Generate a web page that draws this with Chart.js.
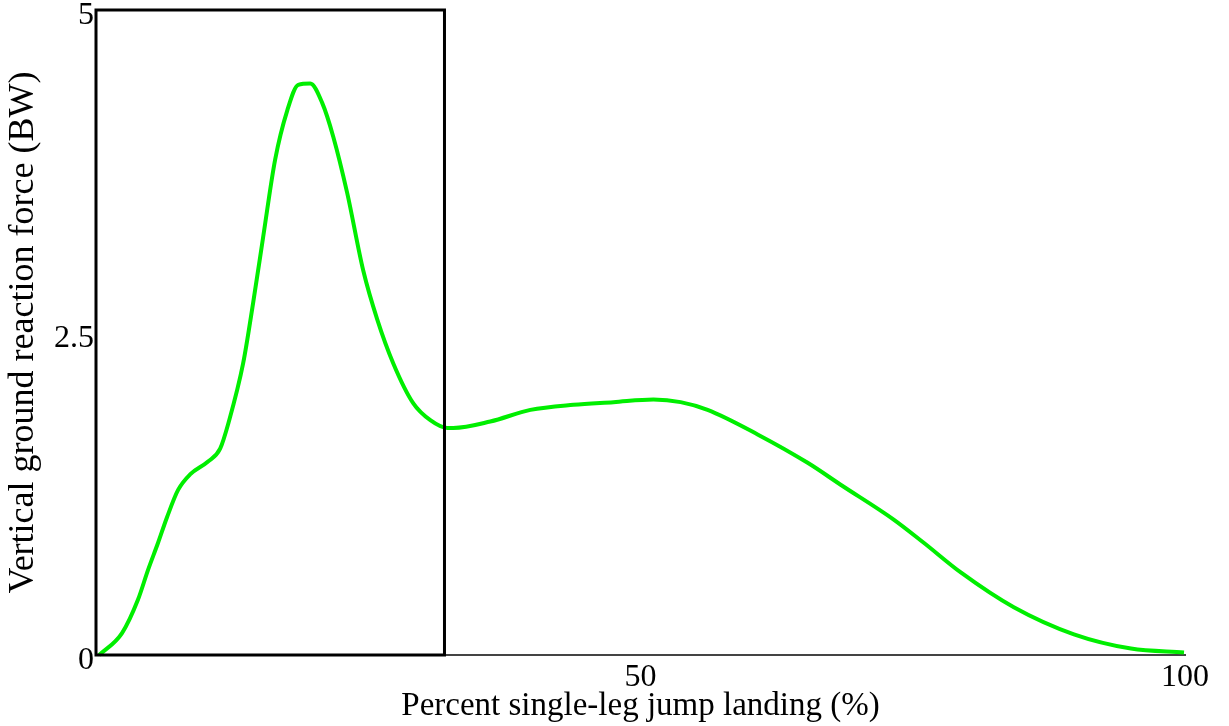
<!DOCTYPE html>
<html>
<head>
<meta charset="utf-8">
<script src="https://cdn.jsdelivr.net/npm/chart.js@4"></script>
<style>
  html, body { margin: 0; padding: 0; background: #fff; }
  #wrap { width: 1229px; height: 726px; position: relative; }
</style>
</head>
<body>
<div id="wrap"><canvas id="c"></canvas></div>
<script>
// Data
const percentLanding = [0.3, 2.39, 3.86, 4.78, 5.70, 6.53, 7.54, 8.64, 10.29, 11.40, 12.2, 13.51, 14.43, 15.35, 16.45, 17.56, 18.57, 19.67, 20.77, 21.78, 23.07, 24.54, 25.83, 27.30, 29.14, 30.70, 32.26, 32.81, 36.21, 39.89, 43.84, 47.52, 51.19, 53.68, 56.16, 60.75, 65.35, 68.38, 73.25, 76.01, 79.41, 84.28, 89.80, 95.04, 99.91];
const vgrfBW = [0.0, 0.17, 0.43, 0.66, 0.87, 1.07, 1.28, 1.40, 1.50, 1.60, 1.81, 2.26, 2.73, 3.24, 3.84, 4.22, 4.42, 4.43, 4.28, 4.02, 3.58, 2.98, 2.60, 2.26, 1.95, 1.82, 1.76, 1.76, 1.81, 1.90, 1.94, 1.96, 1.98, 1.96, 1.90, 1.71, 1.49, 1.32, 1.05, 0.87, 0.64, 0.37, 0.16, 0.05, 0.02];
const xTicks = [0, 50, 100];
const yTicks = [0, 2.5, 5];
const boxX = [0, 32];
const boxY = [0, 5];
const xTitle = 'Percent single-leg jump landing (%)';
const yTitle = 'Vertical ground reaction force (BW)';

const points = percentLanding.map((x, i) => ({ x: x, y: vgrfBW[i] }));

const boxPlugin = {
  id: 'boxPlugin',
  afterDatasetsDraw(chart) {
    const xs = chart.scales.x, ys = chart.scales.y, ctx = chart.ctx;
    const l = xs.getPixelForValue(boxX[0]), r = xs.getPixelForValue(boxX[1]);
    const t = ys.getPixelForValue(boxY[1]), b = ys.getPixelForValue(boxY[0]);
    ctx.save();
    ctx.strokeStyle = '#000';
    ctx.lineWidth = 3;
    ctx.strokeRect(l, t, r - l, b - t);
    ctx.restore();
  }
};

const fam = '"Liberation Serif", "DejaVu Serif", serif';
const tickFont = { family: fam, size: 32 };

new Chart(document.getElementById('c'), {
  type: 'scatter',
  data: {
    datasets: [{
      data: points,
      showLine: true,
      borderColor: '#00ee00',
      backgroundColor: '#00ee00',
      borderWidth: 4,
      pointRadius: 0,
      cubicInterpolationMode: 'monotone',
      clip: false
    }]
  },
  options: {
    responsive: true,
    maintainAspectRatio: false,
    animation: false,
    layout: { padding: { top: 10, right: 44, left: 0, bottom: 0 } },
    plugins: { legend: { display: false }, tooltip: { enabled: false } },
    scales: {
      x: {
        type: 'linear',
        min: 0, max: 100,
        afterBuildTicks(scale) { scale.ticks = xTicks.map(v => ({ value: v })); },
        afterFit(scale) { scale.height = 71; scale.paddingLeft = 0; scale.paddingRight = 0; },
        grid: { display: false, drawTicks: false },
        border: { display: true, color: '#444', width: 2 },
        ticks: {
          font: tickFont, color: '#000', padding: 3, maxRotation: 0,
          callback: v => (v === 0 ? '' : String(v))
        },
        title: { display: true, text: xTitle, font: { family: fam, size: 33 }, color: '#000', padding: { top: 0, bottom: 0 } }
      },
      y: {
        type: 'linear',
        min: 0, max: 5,
        afterBuildTicks(scale) { scale.ticks = yTicks.map(v => ({ value: v })); },
        afterFit(scale) { scale.width = 96; scale.paddingTop = 0; scale.paddingBottom = 0; },
        grid: { display: false, drawTicks: false },
        border: { display: true, color: '#555', width: 2 },
        ticks: {
          font: tickFont, color: '#000', padding: 2, labelOffset: 6,
          callback: v => String(v)
        },
        title: { display: true, text: yTitle, font: { family: fam, size: 36 }, color: '#000', padding: { top: 2, bottom: 0 } }
      }
    }
  },
  plugins: [boxPlugin]
});
</script>
</body>
</html>
